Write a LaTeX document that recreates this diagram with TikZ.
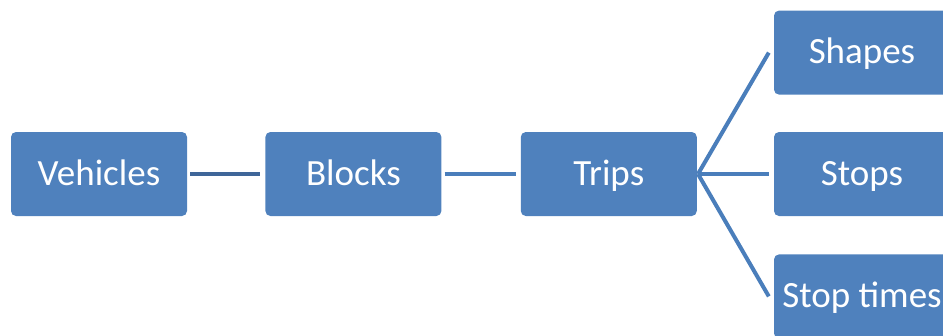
\documentclass[tikz,border=0pt]{standalone}
\usepackage{fontspec}
\setmainfont{Carlito}
\usetikzlibrary{positioning}
\definecolor{boxblue}{HTML}{4F81BD}
\definecolor{linkblue}{HTML}{4A7EBB}
\definecolor{darklink}{HTML}{3F6699}
\begin{document}
\begin{tikzpicture}[x=1pt,y=-1pt]
\tikzset{
  table/.style={fill=boxblue, rounded corners=5pt, minimum width=176pt, minimum height=84pt,
    inner sep=0pt, text height=26pt, text depth=4pt, text=white,
    font=\fontsize{37}{40}\selectfont},
  link/.style={draw=linkblue, line width=4pt}
}
\clip (0,0) rectangle (943,335);
% main row
\node [table] (vehicles) at (99,174) {Vehicles};
\node [table, right=78pt of vehicles] (blocks) {Blocks};
\node [table, right=79pt of blocks] (trips) {Trips};
% branches off trips
\node [table] (stops) at (862,174) {Stops};
\node [table, above=37pt of stops] (shapes) {Shapes};
\node [table, below=38pt of stops] (stoptimes) {Stop times};
\coordinate (fork) at ([xshift=1pt]trips.east);
\draw [link, draw=darklink] ([xshift=3pt]vehicles.east) -- ([xshift=-5pt]blocks.west);
\draw [link] ([xshift=3pt]blocks.east) -- ([xshift=-5pt]trips.west);
\draw [link] (fork) -- ([xshift=-5pt]shapes.west);
\draw [link] (fork) -- ([xshift=-5pt]stops.west);
\draw [link] (fork) -- ([xshift=-5pt]stoptimes.west);
\end{tikzpicture}
\end{document}
